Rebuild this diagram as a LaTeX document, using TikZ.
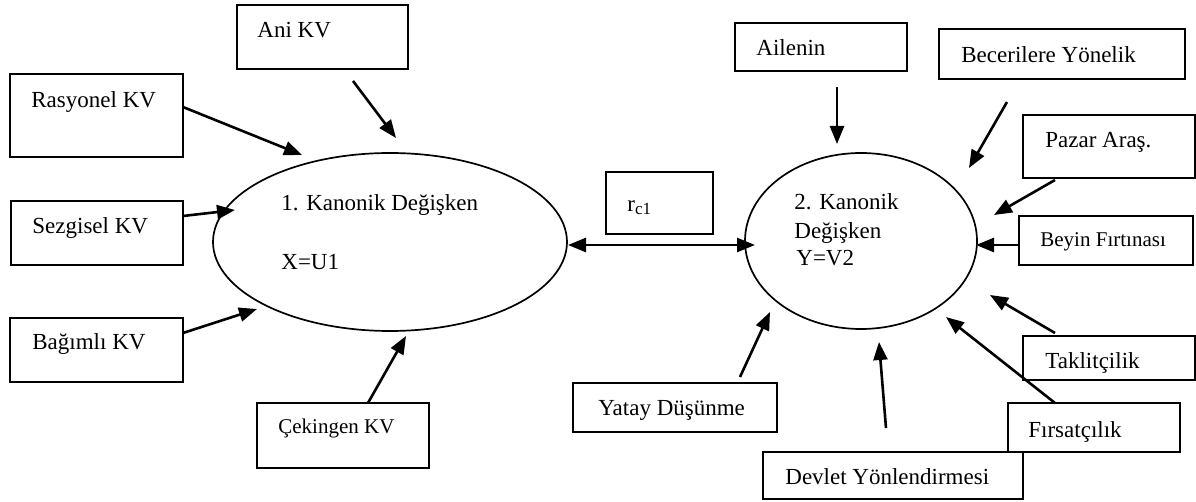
\documentclass[tikz,border=0pt]{standalone}
\usepackage{fontspec}
\setmainfont{Liberation Serif}
\usetikzlibrary{shapes.geometric,arrows.meta,fit}
\tikzset{
  box/.style={draw, line width=1pt, inner sep=0pt},
  txt/.style={anchor=base west, inner sep=0pt, font=\fontsize{11.5}{13}\selectfont},
  smalltxt/.style={anchor=base west, inner sep=0pt, font=\fontsize{10.5}{12}\selectfont},
  canon/.style={draw, ellipse, line width=0.85pt, inner sep=0pt},
  arr/.style={line width=1.3pt, -{Triangle[length=9pt,width=7pt]}},
  darr/.style={line width=1.3pt, {Triangle[length=9pt,width=7pt]}-{Triangle[length=9pt,width=7pt]}}
}
\begin{document}
\begin{tikzpicture}[x=0.5pt,y=-0.5pt]
\useasboundingbox (0,0) rectangle (1196,502);
% ellipses
\node[canon, minimum width=177pt, minimum height=89pt] (e1) at (390,242) {};
\node[canon, minimum width=116pt, minimum height=88pt] (e2) at (861,241) {};
% boxes
\node[box, fit={(237,5) (408,69)}] (ani) {};
\node[box, fit={(10,74) (183,157)}] (ras) {};
\node[box, fit={(11,201) (183,265)}] (sez) {};
\node[box, fit={(10,318) (183,382)}] (bag) {};
\node[box, fit={(257,403) (429,468)}] (cek) {};
\node[box, fit={(606,172) (713,234)}] (rc) {};
\node[box, fit={(735,23) (907,71)}] (ail) {};
\node[box, fit={(939,29) (1185,79)}] (bec) {};
\node[box, fit={(1023,115) (1195,178)}] (paz) {};
\node[box, fit={(1019,216) (1193,265)}] (bey) {};
\node[box, fit={(1023,336) (1195,380)}] (tak) {};
\node[box, fit={(1008,403) (1180,452)}] (fir) {};
\node[box, fit={(763,452) (1023,499)}] (dev) {};
\node[box, fit={(573,383) (777,432)}] (yat) {};
% texts
\node[txt] (tani) at (257,38) {Ani KV};
\node[txt] (tras) at (31,108) {Rasyonel KV};
\node[txt] (tsez) at (32,234) {Sezgisel KV};
\node[txt] (tbag) at (32,350) {Bağımlı KV};
\node[smalltxt] (tcek) at (278,434) {Çekingen KV};
\node[txt] (te1a) at (281,211) {1. Kanonik Değişken};
\node[txt] (te1b) at (281,270) {X=U1};
\node[txt] (trc) at (627,212) {r\raisebox{-0.25ex}{\fontsize{8.5}{9}\selectfont c1}};
\node[txt] (tail) at (756,56) {Ailenin};
\node[txt] (tbec) at (961,63) {Becerilere Yönelik};
\node[txt] (tpaz) at (1045,148) {Pazar Araş.};
\node[smalltxt] (tbey) at (1040,247) {Beyin Fırtınası};
\node[txt] (te2a) at (794,210) {2. Kanonik};
\node[txt] (te2b) at (794,239) {Değişken};
\node[txt] (te2c) at (796,266) {Y=V2};
\node[txt] (tyat) at (598,416) {Yatay Düşünme};
\node[txt] (tdev) at (785,485) {Devlet Yönlendirmesi};
\node[txt] (tfir) at (1028,438) {Fırsatçılık};
\node[txt] (ttak) at (1045,369) {Taklitçilik};
% arrow end points
\coordinate (aniS) at (353,81);   \coordinate (aniT) at (396,138);
\coordinate (rasS) at (183,107);  \coordinate (rasT) at (302,155);
\coordinate (sezS) at (183,216);  \coordinate (sezT) at (235,210);
\coordinate (bagS) at (183,333);  \coordinate (bagT) at (257,309);
\coordinate (cekS) at (368,403);  \coordinate (cekT) at (406,336);
\coordinate (rcL) at (568,245);   \coordinate (rcR) at (755,245);
\coordinate (ailS) at (837,87);   \coordinate (ailT) at (837,144);
\coordinate (becS) at (1007,102); \coordinate (becT) at (969,168);
\coordinate (pazS) at (1055,180); \coordinate (pazT) at (994,215);
\coordinate (beyS) at (1019,245); \coordinate (beyT) at (976,245);
\coordinate (takS) at (1055,333); \coordinate (takT) at (990,295);
\coordinate (firS) at (1055,403); \coordinate (firT) at (946,317);
\coordinate (devS) at (886,428);  \coordinate (devT) at (879,342);
\coordinate (yatS) at (740,377);  \coordinate (yatT) at (770,312);
% arrows
\draw[arr] (aniS) -- (aniT);
\draw[arr] (rasS) -- (rasT);
\draw[arr] (sezS) -- (sezT);
\draw[arr] (bagS) -- (bagT);
\draw[arr] (cekS) -- (cekT);
\draw[darr] (rcL) -- (rcR);
\draw[arr] (ailS) -- (ailT);
\draw[arr] (becS) -- (becT);
\draw[arr] (pazS) -- (pazT);
\draw[arr] (beyS) -- (beyT);
\draw[arr] (takS) -- (takT);
\draw[arr] (firS) -- (firT);
\draw[arr] (devS) -- (devT);
\draw[arr] (yatS) -- (yatT);
\end{tikzpicture}
\end{document}
